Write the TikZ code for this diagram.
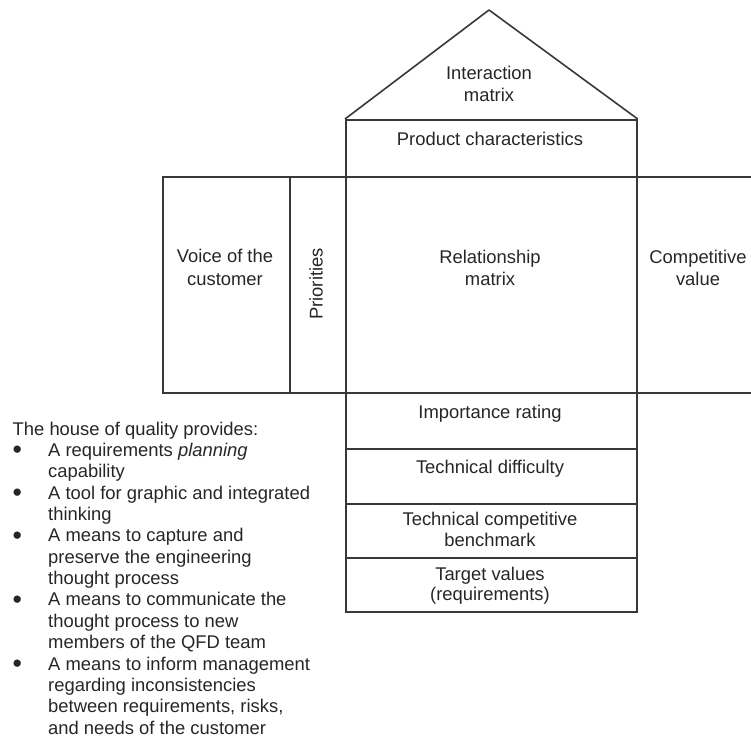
\documentclass[tikz,border=0pt]{standalone}
\usepackage{fontspec}
\setmainfont{Liberation Sans}
\newcommand{\listdot}{\makebox[35.5pt][l]{\raisebox{-2.5pt}{\scalebox{1.45}{\textbullet}}}}
\newcommand{\listgap}{\hspace*{35.5pt}}
\begin{document}
\begin{tikzpicture}[x={(1pt,0)}, y={(0,-1pt)},
  frame/.style={draw=black!78, line width=1.7pt, inner sep=0pt, anchor=north west},
  lbl/.style={text=black!85, inner sep=0pt, align=center,
    font=\fontsize{18.4}{22.5}\selectfont},
  lbllow/.style={lbl, font=\fontsize{18.4}{20.5}\selectfont}]
\useasboundingbox (0,0) rectangle (751,738);

% roof and column of the house
\coordinate (apex) at (489,10);
\node[frame, minimum width=291pt, minimum height=57pt] (pc) at (345,119) {};
\draw[draw=black!78, line width=1.6pt, line join=round] (pc.north west) -- (apex) -- (pc.north east);

% middle storey
\node[frame, minimum width=127pt, minimum height=216pt] (voc) at (162,176) {};
\node[frame, minimum width=56pt, minimum height=216pt] (pri) at (289,176) {};
\node[frame, minimum width=291pt, minimum height=216pt] (rel) at (345,176) {};
\node[frame, minimum width=125pt, minimum height=216pt] (comp) at (636,176) {};

% lower rows
\node[frame, minimum width=291pt, minimum height=56pt] (imp) at (345,392) {};
\node[frame, minimum width=291pt, minimum height=55pt] (dif) at (345,448) {};
\node[frame, minimum width=291pt, minimum height=54pt] (bench) at (345,503) {};
\node[frame, minimum width=291pt, minimum height=54pt] (target) at (345,557) {};

% labels
\node[lbl] (t-int) at (489,84) {Interaction\\matrix};
\node[lbl, anchor=base] (t-pc) at (490,146) {Product characteristics};
\node[lbl] (t-voc) at (225,267.5) {Voice of the\\customer};
\node[lbl, rotate=90] (t-pri) at (316,284) {Priorities};
\node[lbl] (t-rel) at (490,268) {Relationship\\matrix};
\node[lbl] (t-comp) at (698,268) {Competitive\\value};
\node[lbl, anchor=base] (t-imp) at (490,418) {Importance rating};
\node[lbl, anchor=base] (t-dif) at (490,473) {Technical difficulty};
\node[lbllow] (t-bench) at (490,529.5) {Technical competitive\\benchmark};
\node[lbllow] (t-target) at (490,585.5) {Target values\\(requirements)};

% list of benefits
\node[text=black!85, inner sep=0pt, anchor=north west, align=left,
      font=\fontsize{18.4}{21.36}\selectfont] (notes) at (12.5,421.5) {%
The house of quality provides:\\
\listdot A requirements \textit{planning}\\
\listgap capability\\
\listdot A tool for graphic and integrated\\
\listgap thinking\\
\listdot A means to capture and\\
\listgap preserve the engineering\\
\listgap thought process\\
\listdot A means to communicate the\\
\listgap thought process to new\\
\listgap members of the QFD team\\
\listdot A means to inform management\\
\listgap regarding inconsistencies\\
\listgap between requirements, risks,\\
\listgap and needs of the customer};
\end{tikzpicture}
\end{document}
